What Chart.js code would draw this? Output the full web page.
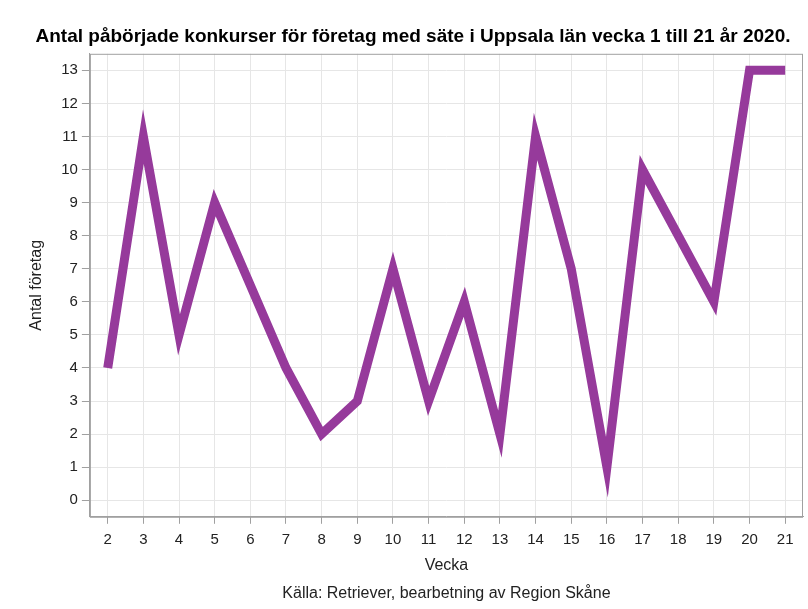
<!DOCTYPE html>
<html>
<head>
<meta charset="utf-8">
<script src="https://cdn.jsdelivr.net/npm/chart.js@4"></script>
<style>
  html, body { margin: 0; padding: 0; background: #fff; }
  #wrap { width: 808px; height: 609px; }
</style>
</head>
<body>
<div id="wrap"><canvas id="chart" width="808" height="609"></canvas></div>
<script>
    const weeks = ['2', '3', '4', '5', '6', '7', '8', '9', '10', '11', '12', '13', '14', '15', '16', '17', '18', '19', '20', '21'];
    const antal = [4, 11, 5, 9, 6.5, 4, 2, 3, 7, 3, 6, 2, 11, 7, 1, 10, 8, 6, 13, 13];
    const yTicks = [0, 1, 2, 3, 4, 5, 6, 7, 8, 9, 10, 11, 12, 13];

    const titleText = 'Antal påbörjade konkurser för företag med säte i Uppsala län vecka 1 till 21 år 2020.';
    const sourceText = 'Källa: Retriever, bearbetning av Region Skåne';
    const fontFam = '"Liberation Sans", Arial, sans-serif';

    // frame around the plot + source line under the x axis title
    const framePlugin = {
      id: 'frame',
      afterDraw(chart) {
        const ctx = chart.ctx;
        const a = chart.chartArea;
        ctx.save();
        ctx.strokeStyle = '#a0a0a0';
        ctx.lineWidth = 1;
        ctx.strokeRect(a.left + 0.5, a.top + 0.5, a.right - a.left - 1, a.bottom - a.top);
        ctx.fillStyle = '#222';
        ctx.font = '16px ' + fontFam;
        ctx.textAlign = 'center';
        ctx.textBaseline = 'middle';
        ctx.fillText(sourceText, (a.left + a.right) / 2, 594);
        ctx.restore();
      }
    };

    new Chart(document.getElementById('chart'), {
      type: 'line',
      data: {
        labels: weeks,
        datasets: [{
          data: antal,
          borderColor: '#963a9b',
          borderWidth: 9,
          borderJoinStyle: 'miter',
          borderCapStyle: 'butt',
          pointRadius: 0,
          tension: 0,
          fill: false
        }]
      },
      options: {
        responsive: false,
        animation: false,
        layout: { padding: { left: 23, right: 5, top: 6, bottom: 34 } },
        plugins: {
          legend: { display: false },
          tooltip: { enabled: false },
          title: {
            display: true,
            text: titleText,
            color: '#000',
            font: { family: fontFam, size: 19, weight: 'bold' },
            padding: { top: 19, bottom: 6 }
          }
        },
        scales: {
          x: {
            type: 'category',
            offset: true,
            grid: { offset: false, color: '#e6e6e6', tickColor: '#a0a0a0', tickLength: 7 },
            border: { color: '#a0a0a0' },
            ticks: { color: '#222', font: { family: fontFam, size: 15 }, maxRotation: 0, autoSkip: false, padding: 7 },
            title: { display: true, text: 'Vecka', color: '#222', font: { family: fontFam, size: 16 }, padding: { top: 0, bottom: 0 } }
          },
          y: {
            min: -0.5,
            max: 13.5,
            afterBuildTicks(axis) { axis.ticks = yTicks.map(v => ({ value: v })); },
            grid: { color: '#e6e6e6', tickColor: '#a0a0a0', tickLength: 8 },
            border: { color: '#a0a0a0' },
            ticks: { color: '#222', font: { family: fontFam, size: 15 }, padding: 4 },
            title: { display: true, text: 'Antal företag', color: '#222', font: { family: fontFam, size: 16 }, padding: { top: 4, bottom: 11 } }
          }
        }
      },
      plugins: [framePlugin]
    });
</script>
</body>
</html>
